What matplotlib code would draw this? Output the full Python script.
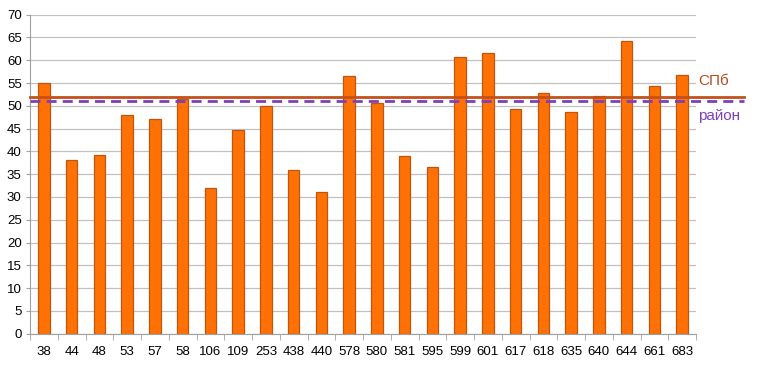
import matplotlib
matplotlib.use("Agg")
import matplotlib.pyplot as plt
import numpy as np

categories = ["38", "44", "48", "53", "57", "58", "106", "109", "253", "438", "440",
              "578", "580", "581", "595", "599", "601", "617", "618", "635", "640",
              "644", "661", "683"]
values = [55.0, 38.2, 39.2, 48.1, 47.2, 51.4, 32.0, 44.6, 50.0, 36.0, 31.0,
          56.5, 50.6, 39.0, 36.5, 60.8, 61.7, 49.3, 52.9, 48.6, 52.1,
          64.3, 54.3, 56.7]
spb_value = 52.0
raion_value = 51.15
spb_label = "СПб"
raion_label = "район"

plt.rcParams['font.family'] = ['Liberation Sans', 'DejaVu Sans']

fig = plt.figure(figsize=(7.62, 3.65), dpi=100)
ax = fig.add_axes([30/762, (365-333.7)/365, (696-30)/762, (333.7-14.7)/365])

n = len(categories)
x = np.arange(n)
ax.bar(x, values, width=0.41, color="#FF7105", edgecolor="#C0560E", linewidth=0.9, zorder=2)

xmin, xmax = -0.5, n - 0.5
ext = xmax + (744 - 696) / (666 / n)
ax.plot([xmin, ext], [spb_value, spb_value], color="#C4501C", lw=2.0, clip_on=False, zorder=3)
ax.plot([xmin, ext], [raion_value, raion_value], color="#7E3FB8", lw=2.0,
        dashes=(3.6, 2.2), clip_on=False, zorder=3)

ax.text(ext - 1.65, 55.5, spb_label, color="#B84A1A", fontsize=11, ha="left", va="center",
        transform=ax.transData, clip_on=False)
ax.text(ext - 1.65, 47.8, raion_label, color="#7E3FB8", fontsize=11, ha="left", va="center",
        transform=ax.transData, clip_on=False)

ax.set_xlim(xmin, xmax)
ax.set_ylim(0, 70)
ax.set_yticks(np.arange(0, 71, 5))
ax.tick_params(axis='y', labelsize=9.5, length=3, color="#A0A0A0", pad=3)
ax.set_xticks(x)
ax.set_xticklabels(categories)
ax.tick_params(axis='x', labelsize=9.5, length=0, pad=9)
ax.set_xticks(np.arange(n + 1) - 0.5, minor=True)
ax.tick_params(axis='x', which='minor', length=4, color="#A0A0A0")
ax.grid(axis='y', color="#C0C0C0", lw=0.9, zorder=0)
ax.set_axisbelow(True)
for s in ["top", "right"]:
    ax.spines[s].set_visible(False)
for s in ["left", "bottom"]:
    ax.spines[s].set_color("#A0A0A0")

fig.savefig("out.png", dpi=100)
